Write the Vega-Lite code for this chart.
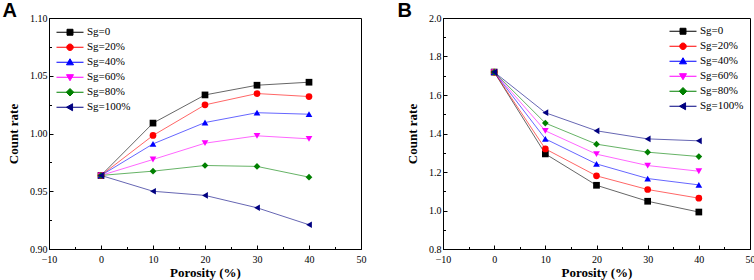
{
  "$schema": "https://vega.github.io/schema/vega-lite/v6.json",
  "padding": {"left": 2, "top": 0, "right": 0, "bottom": 0},
  "background": "white",
  "datasets": {
    "A": [
      {"por": 0, "sg": "Sg=0", "val": 0.9637}, {"por": 10, "sg": "Sg=0", "val": 1.009}, {"por": 20, "sg": "Sg=0", "val": 1.0334}, {"por": 30, "sg": "Sg=0", "val": 1.0418}, {"por": 40, "sg": "Sg=0", "val": 1.0444},
      {"por": 0, "sg": "Sg=20%", "val": 0.9637}, {"por": 10, "sg": "Sg=20%", "val": 0.9983}, {"por": 20, "sg": "Sg=20%", "val": 1.0248}, {"por": 30, "sg": "Sg=20%", "val": 1.0346}, {"por": 40, "sg": "Sg=20%", "val": 1.032},
      {"por": 0, "sg": "Sg=40%", "val": 0.9637}, {"por": 10, "sg": "Sg=40%", "val": 0.991}, {"por": 20, "sg": "Sg=40%", "val": 1.0095}, {"por": 30, "sg": "Sg=40%", "val": 1.018}, {"por": 40, "sg": "Sg=40%", "val": 1.0167},
      {"por": 0, "sg": "Sg=60%", "val": 0.9637}, {"por": 10, "sg": "Sg=60%", "val": 0.9775}, {"por": 20, "sg": "Sg=60%", "val": 0.9916}, {"por": 30, "sg": "Sg=60%", "val": 0.998}, {"por": 40, "sg": "Sg=60%", "val": 0.9954},
      {"por": 0, "sg": "Sg=80%", "val": 0.9637}, {"por": 10, "sg": "Sg=80%", "val": 0.9674}, {"por": 20, "sg": "Sg=80%", "val": 0.9723}, {"por": 30, "sg": "Sg=80%", "val": 0.9715}, {"por": 40, "sg": "Sg=80%", "val": 0.9622},
      {"por": 0, "sg": "Sg=100%", "val": 0.9637}, {"por": 10, "sg": "Sg=100%", "val": 0.950}, {"por": 20, "sg": "Sg=100%", "val": 0.9464}, {"por": 30, "sg": "Sg=100%", "val": 0.9357}, {"por": 40, "sg": "Sg=100%", "val": 0.921}
    ],
    "B": [
      {"por": 0, "sg": "Sg=0", "val": 1.719}, {"por": 10, "sg": "Sg=0", "val": 1.294}, {"por": 20, "sg": "Sg=0", "val": 1.131}, {"por": 30, "sg": "Sg=0", "val": 1.048}, {"por": 40, "sg": "Sg=0", "val": 0.992},
      {"por": 0, "sg": "Sg=20%", "val": 1.719}, {"por": 10, "sg": "Sg=20%", "val": 1.320}, {"por": 20, "sg": "Sg=20%", "val": 1.180}, {"por": 30, "sg": "Sg=20%", "val": 1.109}, {"por": 40, "sg": "Sg=20%", "val": 1.064},
      {"por": 0, "sg": "Sg=40%", "val": 1.719}, {"por": 10, "sg": "Sg=40%", "val": 1.372}, {"por": 20, "sg": "Sg=40%", "val": 1.242}, {"por": 30, "sg": "Sg=40%", "val": 1.166}, {"por": 40, "sg": "Sg=40%", "val": 1.133},
      {"por": 0, "sg": "Sg=60%", "val": 1.719}, {"por": 10, "sg": "Sg=60%", "val": 1.414}, {"por": 20, "sg": "Sg=60%", "val": 1.2925}, {"por": 30, "sg": "Sg=60%", "val": 1.2336}, {"por": 40, "sg": "Sg=60%", "val": 1.204},
      {"por": 0, "sg": "Sg=80%", "val": 1.719}, {"por": 10, "sg": "Sg=80%", "val": 1.454}, {"por": 20, "sg": "Sg=80%", "val": 1.3445}, {"por": 30, "sg": "Sg=80%", "val": 1.303}, {"por": 40, "sg": "Sg=80%", "val": 1.2804},
      {"por": 0, "sg": "Sg=100%", "val": 1.719}, {"por": 10, "sg": "Sg=100%", "val": 1.508}, {"por": 20, "sg": "Sg=100%", "val": 1.414}, {"por": 30, "sg": "Sg=100%", "val": 1.372}, {"por": 40, "sg": "Sg=100%", "val": 1.362}
    ]
  },
  "config": {
    "view": {"stroke": "black", "strokeWidth": 1},
    "axis": {
      "grid": false,
      "domainColor": "black",
      "tickColor": "black",
      "labelColor": "black",
      "titleColor": "black",
      "labelFont": "Liberation Serif",
      "labelFontSize": 10,
      "titleFont": "Liberation Serif",
      "titleFontSize": 13,
      "titleFontWeight": "bold"
    },
    "title": {"font": "Liberation Sans", "fontSize": 20, "fontWeight": "bold", "color": "black", "anchor": "start", "frame": "bounds", "offset": -8},
    "legend": {"labelFont": "Liberation Serif", "labelFontSize": 11, "labelColor": "black", "title": null, "padding": 0, "symbolSize": 729, "clipHeight": 14.5, "rowPadding": 0, "labelOffset": 3, "symbolStrokeWidth": 1, "symbolOpacity": 1},
    "point": {"filled": true, "size": 45, "opacity": 1}
  },
  "spacing": 30,
  "resolve": {
    "scale": {"color": "independent", "shape": "independent", "x": "independent", "y": "independent"},
    "legend": {"color": "independent", "shape": "independent"}
  },
  "hconcat": [
    {
      "width": 312,
      "height": 231,
      "title": {"text": "A", "dx": -5},
      "data": {"name": "A"},
      "encoding": {
        "x": {"field": "por", "type": "quantitative", "title": "Porosity (%)",
          "scale": {"domain": [-10, 50], "nice": false},
          "axis": {"values": [-10, -5, 0, 5, 10, 15, 20, 25, 30, 35, 40, 45, 50],
            "labelExpr": "abs(datum.value/10 - round(datum.value/10)) < 0.001 ? datum.label : ''",
            "tickSize": {"condition": {"test": "abs(datum.value/10 - round(datum.value/10)) < 0.001", "value": -4}, "value": -2.5},
            "labelPadding": 9, "titlePadding": 2, "labelFlush": false}},
        "y": {"field": "val", "type": "quantitative", "title": "Count rate",
          "scale": {"domain": [0.9, 1.1], "nice": false, "zero": false},
          "axis": {"values": [0.9, 0.925, 0.95, 0.975, 1.0, 1.025, 1.05, 1.075, 1.1], "format": ".2f",
            "labelExpr": "abs(datum.value*20 - round(datum.value*20)) < 0.001 ? datum.label : ''",
            "tickSize": {"condition": {"test": "abs(datum.value*20 - round(datum.value*20)) < 0.001", "value": -4}, "value": -2.5},
            "labelPadding": 6, "titlePadding": 9, "labelFlush": false}},
        "color": {"field": "sg", "type": "nominal",
          "scale": {"domain": ["Sg=0", "Sg=20%", "Sg=40%", "Sg=60%", "Sg=80%", "Sg=100%"], "range": ["#000000", "#ff0000", "#0000ff", "#ff00ff", "#008000", "#000080"]},
          "legend": {"orient": "top-left", "offset": 7}
        }
      },
      "layer": [
        {"mark": {"type": "line", "strokeWidth": 1, "strokeOpacity": 0.6}},
        {"transform": [{"filter": {"field": "sg", "equal": "Sg=0"}}], "mark": {"type": "point", "shape": "square"}},
        {"transform": [{"filter": {"field": "sg", "equal": "Sg=20%"}}], "mark": {"type": "point", "shape": "circle"}},
        {"transform": [{"filter": {"field": "sg", "equal": "Sg=40%"}}], "mark": {"type": "point", "shape": "triangle-up"}},
        {"transform": [{"filter": {"field": "sg", "equal": "Sg=60%"}}], "mark": {"type": "point", "shape": "triangle-down"}},
        {"transform": [{"filter": {"field": "sg", "equal": "Sg=80%"}}], "mark": {"type": "point", "shape": "diamond"}},
        {"transform": [{"filter": {"field": "sg", "equal": "Sg=100%"}}], "mark": {"type": "point", "shape": "triangle-left"}},
        {"mark": {"type": "point", "opacity": 0},
          "encoding": {"shape": {"field": "sg", "type": "nominal",
            "scale": {"domain": ["Sg=0", "Sg=20%", "Sg=40%", "Sg=60%", "Sg=80%", "Sg=100%"],
              "range": ["M-1,0H1M-0.22,-0.22H0.22V0.22H-0.22Z", "M-1,0H1M-0.24,0A0.24,0.24,0,1,1,0.24,0A0.24,0.24,0,1,1,-0.24,0Z", "M-1,0H1M0,-0.26L0.26,0.19L-0.26,0.19Z", "M-1,0H1M0,0.26L0.26,-0.19L-0.26,-0.19Z", "M-1,0H1M0,-0.28L0.28,0L0,0.28L-0.28,0Z", "M-1,0H1M-0.26,0L0.19,-0.26L0.19,0.26Z"]},
            "legend": {"orient": "top-left", "offset": 7}}}}
      ]
    },
    {
      "width": 307,
      "height": 231,
      "title": {"text": "B", "dx": -9},
      "data": {"name": "B"},
      "encoding": {
        "x": {"field": "por", "type": "quantitative", "title": "Porosity (%)",
          "scale": {"domain": [-10, 50], "nice": false},
          "axis": {"values": [-10, -5, 0, 5, 10, 15, 20, 25, 30, 35, 40, 45, 50],
            "labelExpr": "abs(datum.value/10 - round(datum.value/10)) < 0.001 ? datum.label : ''",
            "tickSize": {"condition": {"test": "abs(datum.value/10 - round(datum.value/10)) < 0.001", "value": -4}, "value": -2.5},
            "labelPadding": 9, "titlePadding": 2, "labelFlush": false}},
        "y": {"field": "val", "type": "quantitative", "title": "Count rate",
          "scale": {"domain": [0.8, 2.0], "nice": false, "zero": false},
          "axis": {"values": [0.8, 0.9, 1.0, 1.1, 1.2, 1.3, 1.4, 1.5, 1.6, 1.7, 1.8, 1.9, 2.0], "format": ".1f",
            "labelExpr": "abs(datum.value*5 - round(datum.value*5)) < 0.001 ? datum.label : ''",
            "tickSize": {"condition": {"test": "abs(datum.value*5 - round(datum.value*5)) < 0.001", "value": -4}, "value": -2.5},
            "labelPadding": 6, "titlePadding": 9, "labelFlush": false}},
        "color": {"field": "sg", "type": "nominal",
          "scale": {"domain": ["Sg=0", "Sg=20%", "Sg=40%", "Sg=60%", "Sg=80%", "Sg=100%"], "range": ["#000000", "#ff0000", "#0000ff", "#ff00ff", "#008000", "#000080"]},
          "legend": {"orient": "top-right", "offset": 6}
        }
      },
      "layer": [
        {"mark": {"type": "line", "strokeWidth": 1, "strokeOpacity": 0.6}},
        {"transform": [{"filter": {"field": "sg", "equal": "Sg=0"}}], "mark": {"type": "point", "shape": "square"}},
        {"transform": [{"filter": {"field": "sg", "equal": "Sg=20%"}}], "mark": {"type": "point", "shape": "circle"}},
        {"transform": [{"filter": {"field": "sg", "equal": "Sg=40%"}}], "mark": {"type": "point", "shape": "triangle-up"}},
        {"transform": [{"filter": {"field": "sg", "equal": "Sg=60%"}}], "mark": {"type": "point", "shape": "triangle-down"}},
        {"transform": [{"filter": {"field": "sg", "equal": "Sg=80%"}}], "mark": {"type": "point", "shape": "diamond"}},
        {"transform": [{"filter": {"field": "sg", "equal": "Sg=100%"}}], "mark": {"type": "point", "shape": "triangle-left"}},
        {"mark": {"type": "point", "opacity": 0},
          "encoding": {"shape": {"field": "sg", "type": "nominal",
            "scale": {"domain": ["Sg=0", "Sg=20%", "Sg=40%", "Sg=60%", "Sg=80%", "Sg=100%"],
              "range": ["M-1,0H1M-0.22,-0.22H0.22V0.22H-0.22Z", "M-1,0H1M-0.24,0A0.24,0.24,0,1,1,0.24,0A0.24,0.24,0,1,1,-0.24,0Z", "M-1,0H1M0,-0.26L0.26,0.19L-0.26,0.19Z", "M-1,0H1M0,0.26L0.26,-0.19L-0.26,-0.19Z", "M-1,0H1M0,-0.28L0.28,0L0,0.28L-0.28,0Z", "M-1,0H1M-0.26,0L0.19,-0.26L0.19,0.26Z"]},
            "legend": {"orient": "top-right", "offset": 6}}}}
      ]
    }
  ]
}
